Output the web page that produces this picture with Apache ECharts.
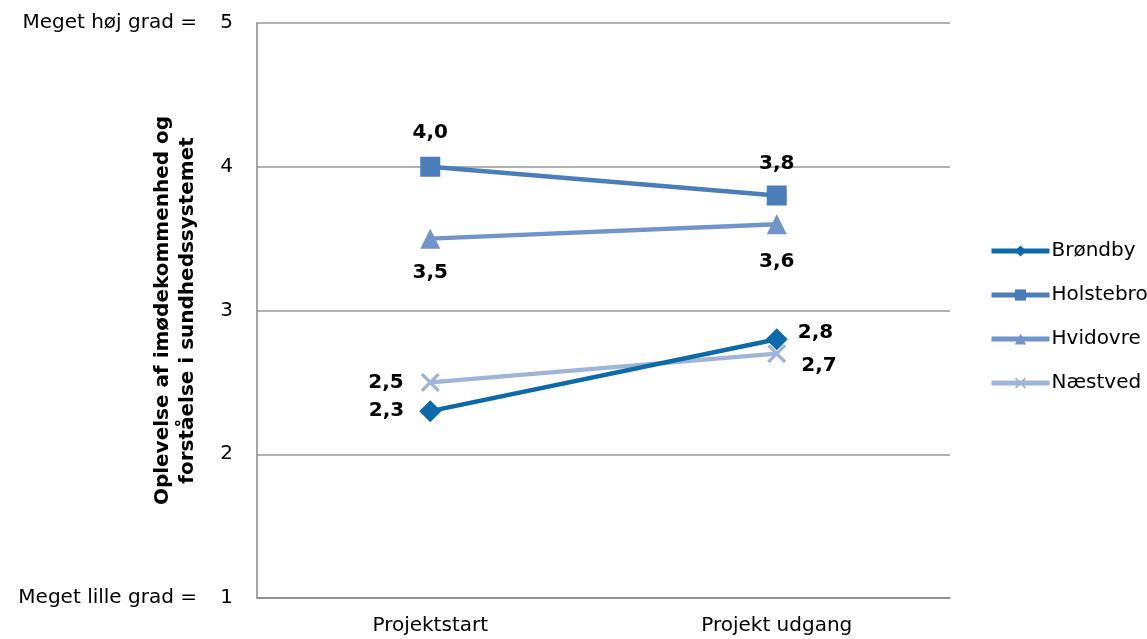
<!DOCTYPE html>
<html>
<head>
<meta charset="utf-8">
<script src="https://cdn.jsdelivr.net/npm/echarts@6/dist/echarts.min.js"></script>
<style>
html,body{margin:0;padding:0;background:#fff;}
#chart{width:1147px;height:639px;}
</style>
</head>
<body>
<div id="chart"></div>
<script>
var categories = ['Projektstart', 'Projekt udgang'];
var brondby = [2.3, 2.8];
var holstebro = [4.0, 3.8];
var hvidovre = [3.5, 3.6];
var naestved = [2.5, 2.7];
var seriesNames = ['Brøndby', 'Holstebro', 'Hvidovre', 'Næstved'];
var yTickPrefix = {5: 'Meget høj grad =', 1: 'Meget lille grad ='};
var yAxisTitle = 'Oplevelse af imødekommenhed og\nforståelse i sundhedssystemet';

var FONT = 'DejaVu Sans';
function fmt(p) { return p.value.toFixed(1).replace('.', ','); }
var labelBase = {show: true, fontFamily: FONT, fontWeight: 'bold', fontSize: 20, color: '#000', formatter: fmt};

function mk(values, labelOpts) {
  return values.map(function (v, i) {
    return {value: v, label: Object.assign({}, labelBase, labelOpts[i])};
  });
}
var xPath = 'path://M0,1.2 L1.2,0 L5,3.8 L8.8,0 L10,1.2 L6.2,5 L10,8.8 L8.8,10 L5,6.2 L1.2,10 L0,8.8 L3.8,5 Z';

var colors = ['#0d6aaa', '#4a7ebb', '#7094cb', '#9fb4d9'];

var chart = echarts.init(document.getElementById('chart'), null, {renderer: 'canvas'});
chart.setOption({
  animation: false,
  color: colors,
  grid: {left: 257, right: 197, top: 23, bottom: 41, containLabel: false},
  legend: {
    orient: 'vertical', left: 984, top: 236, itemGap: 24, itemWidth: 58, itemHeight: 14,
    lineStyle: {width: 5},
    textStyle: {fontFamily: FONT, fontSize: 20, color: '#000', padding: [0, 0, 0, -3]},
    data: seriesNames
  },
  xAxis: {
    type: 'category', data: categories, boundaryGap: true,
    axisLine: {show: true, lineStyle: {color: '#888', width: 1.5}},
    axisTick: {show: false},
    axisLabel: {fontFamily: FONT, fontSize: 20, color: '#000', margin: 18}
  },
  yAxis: {
    type: 'value', min: 1, max: 5, interval: 1,
    name: yAxisTitle, nameLocation: 'middle', nameGap: 57, nameRotate: 90, nameMoveOverlap: false,
    nameTextStyle: {fontFamily: FONT, fontWeight: 'bold', fontSize: 20, color: '#000', lineHeight: 25},
    axisLine: {show: true, lineStyle: {color: '#888', width: 1.5}},
    axisTick: {show: false},
    splitLine: {show: true, lineStyle: {color: '#999', width: 1.5}},
    axisLabel: {fontFamily: FONT, fontSize: 20, color: '#000', margin: 24,
      formatter: function (v) {
        return (yTickPrefix[v] ? '{a|' + yTickPrefix[v] + '}' : '') + '{b|' + v + '}';
      },
      rich: {
        a: {fontFamily: FONT, fontSize: 20, color: '#000'},
        b: {fontFamily: FONT, fontSize: 20, color: '#000', width: 36, align: 'right'}
      }
    }
  },
  series: [
    {name: seriesNames[0], type: 'line', symbol: 'diamond', symbolSize: 22,
      lineStyle: {width: 4.5}, z: 4,
      data: mk(brondby, [{position: 'left', distance: 15}, {position: 'right', distance: 10, offset: [0, -6]}])},
    {name: seriesNames[1], type: 'line', symbol: 'rect', symbolSize: 20,
      lineStyle: {width: 4.5}, z: 3,
      data: mk(holstebro, [{position: 'top', distance: 14}, {position: 'top', distance: 12}])},
    {name: seriesNames[2], type: 'line', symbol: 'triangle', symbolSize: 20,
      lineStyle: {width: 4.5}, z: 2,
      data: mk(hvidovre, [{position: 'bottom', distance: 14}, {position: 'bottom', distance: 18}])},
    {name: seriesNames[3], type: 'line', symbol: xPath, symbolSize: 19,
      lineStyle: {width: 4.5}, z: 1,
      data: mk(naestved, [{position: 'left', distance: 17}, {position: 'right', distance: 15, offset: [0, 12]}])}
  ]
});
</script>
</body>
</html>
